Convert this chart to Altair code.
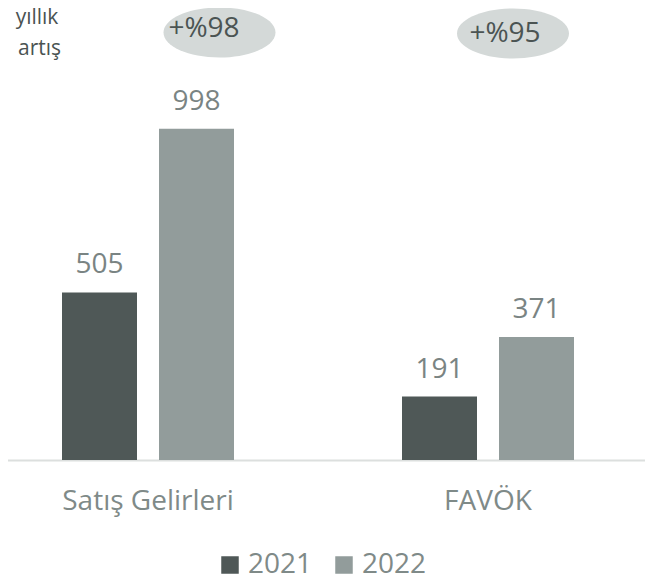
import altair as alt
import pandas as pd

categories = ["Satış Gelirleri", "FAVÖK"]
years = ["2021", "2022"]
values_2021 = [505, 191]
values_2022 = [998, 371]
growth_labels = ["+%98", "+%95"]
side_note = ["yıllık", "artış"]

rows = []
for i, c in enumerate(categories):
    rows.append({"category": c, "year": years[0], "value": values_2021[i]})
    rows.append({"category": c, "year": years[1], "value": values_2022[i]})
df = pd.DataFrame(rows)
ann = pd.DataFrame({"category": categories, "growth": growth_labels})

FONT = "Open Sans"
x_scale = alt.Scale(domain=categories, range=[-30, 650], paddingInner=0, paddingOuter=0)
x_axis = alt.Axis(title=None, ticks=False, labelAngle=0, labelFontSize=28, labelColor="#7f8a88",
                  labelFont=FONT, labelPadding=27, domainColor="#dcdfde", domainWidth=2,
                  labelBaseline="top")
X = alt.X("category:N", scale=x_scale, axis=x_axis, sort=categories)
XO = alt.XOffset("year:N", scale=alt.Scale(domain=years, paddingInner=0.2268, paddingOuter=0.866))
Y = alt.Y("value:Q", scale=alt.Scale(domain=[0, 1362], nice=False, zero=True), axis=None)

bars = alt.Chart(df).mark_bar().encode(
    x=X, xOffset=XO, y=Y,
    color=alt.Color("year:N", scale=alt.Scale(domain=years, range=["#4f5857", "#929c9b"]),
                    legend=alt.Legend(title=None, orient="none", direction="horizontal",
                                      legendX=208, legendY=543, symbolType="square",
                                      symbolSize=306, symbolStrokeWidth=0, labelFontSize=28,
                                      labelFont=FONT, labelColor="#7f8a88", labelOffset=4,
                                      columnPadding=17, symbolOpacity=1))
)

labels = alt.Chart(df).mark_text(baseline="alphabetic", dy=-19, fontSize=28, font=FONT,
                                 color="#7a8483").encode(
    x=X, xOffset=XO, y=Y, text="value:Q"
)

layers = [bars, labels]
ellipse_path = "M-1,0A1,0.4464,0,1,1,1,0A1,0.4464,0,1,1,-1,0Z"
ell_dx = [241.5, 195]
ell_y = [24.5, 25.5]
txt_dx = [56, 17]
txt_y = [29, 34]
for i, c in enumerate(categories):
    sub = ann[ann["category"] == c]
    layers.append(
        alt.Chart(sub).mark_point(shape=ellipse_path, size=12544, filled=True, fill="#d4d9d8",
                                  opacity=1, strokeWidth=0).encode(
            x=X, xOffset=alt.value(ell_dx[i]), y=alt.value(ell_y[i]))
    )
    layers.append(
        alt.Chart(sub).mark_text(fontSize=28, font=FONT, color="#4b5453", baseline="alphabetic",
                                 align="center", dx=txt_dx[i]).encode(
            x=X, y=alt.value(txt_y[i]), text="growth:N")
    )

note_x = [29, 31.5]
note_y = [15.5, 46.5]
for j, word in enumerate(side_note):
    layers.append(
        alt.Chart(ann.head(1)).mark_text(text=word, fontSize=21, font=FONT, color="#4a5352",
                                         align="center", baseline="alphabetic").encode(
            x=alt.value(note_x[j]), y=alt.value(note_y[j]))
    )

chart = alt.layer(*layers).properties(
    width=637, height=452,
    padding={"left": 0, "top": 0, "right": 0, "bottom": 116},
    autosize=alt.AutoSizeParams(type="none"),
).configure_view(stroke=None)

chart.save("out.html", embed_options={"renderer": "svg", "actions": False})
